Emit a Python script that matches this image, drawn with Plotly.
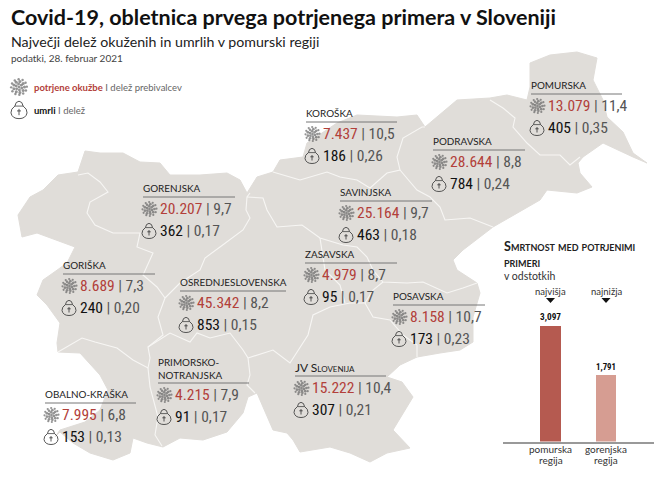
import math
import plotly.graph_objects as go

# regional figures
regions = ["POMURSKA", "KOROŠKA", "PODRAVSKA", "SAVINJSKA", "GORENJSKA", "GORIŠKA",
           "OSREDNJESLOVENSKA", "ZASAVSKA", "POSAVSKA", "JV Slovenija",
           "PRIMORSKO-<br>NOTRANJSKA", "OBALNO-KRAŠKA"]
cases = ["13.079", "7.437", "28.644", "25.164", "20.207", "8.689",
         "45.342", "4.979", "8.158", "15.222", "4.215", "7.995"]
cases_share = ["11,4", "10,5", "8,8", "9,7", "9,7", "7,3", "8,2", "8,7", "10,7", "10,4", "7,9", "6,8"]
deaths = ["405", "186", "784", "463", "362", "240", "853", "95", "173", "307", "91", "153"]
deaths_share = ["0,35", "0,26", "0,24", "0,18", "0,17", "0,20", "0,15", "0,17", "0,23", "0,21", "0,17", "0,13"]

# where each label block sits on the page
label_x = [531, 306, 433, 340, 143, 63, 180, 305, 393, 295, 158, 45]
rule_y = [94, 122, 150, 201, 197, 274, 291, 263, 305, 376, 383, 403]
rule_end = [622, 397, 525, 432, 235, 155, 286, 397, 485, 386, 249, 136]

# mortality bars
bar_regions = ["pomurska regija", "gorenjska regija"]
bar_values = [3.097, 1.791]
bar_labels = ["3,097", "1,791"]
bar_heads = ["najvišja", "najnižja"]

# map outline, traced in page pixels
outline_x = [18, 30, 43, 58, 78, 85, 100, 123, 140, 160, 170, 200, 227, 240, 247, 257, 273, 280, 303, 307,
             337, 357, 397, 417, 425, 443, 457, 490, 507, 527, 530, 530, 550, 577, 597, 593, 603, 607, 623,
             633, 647, 633, 603, 583, 578, 580, 592, 577, 547, 540, 517, 493, 463, 453, 457, 477, 480, 473,
             473, 460, 440, 417, 400, 387, 402, 413, 393, 410, 387, 370, 350, 330, 300, 293, 287, 273, 263,
             257, 248, 243, 227, 203, 180, 163, 147, 133, 130, 113, 90, 73, 60, 55, 60, 85, 100, 108, 100,
             80, 58, 57, 60, 47, 37, 43, 53, 67, 75, 57, 37, 22, 18]
outline_y = [215, 197, 190, 175, 172, 151, 153, 153, 162, 163, 175, 175, 173, 180, 193, 177, 172, 160, 157, 143,
             123, 115, 117, 115, 127, 112, 100, 98, 95, 100, 87, 63, 55, 52, 58, 80, 100, 117, 132,
             153, 163, 157, 143, 157, 163, 173, 187, 193, 190, 200, 213, 227, 250, 260, 270, 283, 293, 317,
             342, 350, 353, 357, 365, 377, 382, 397, 430, 448, 453, 462, 453, 447, 452, 440, 433, 430, 407,
             393, 397, 413, 432, 440, 438, 447, 443, 438, 453, 460, 453, 443, 432, 437, 430, 422, 410, 390, 375,
             353, 352, 343, 323, 305, 295, 280, 273, 263, 247, 240, 233, 237, 215]

# white borders between regions
border_x = [78, 88, 100, 108, 90, 87, 95, 113, 140, 137, 153, 143, 157, 165, None,
            165, 180, 200, 205, 220, 243, 250, 246, 247, 250, None,
            165, 158, 163, 148, 150, 148, 133, 117, 95, 82, 58, None,
            148, 170, 190, 197, 210, 230, 243, 248, 250, 247, 255, None,
            148, 150, 158, 155, 162, None,
            248, 273, 290, 308, 313, 330, 350, 365, 373, 390, 403, 417, 417, None,
            247, 263, 267, 277, 302, 320, 343, 357, 367, 373, 383, 407, 423, 447, 463, 477, None,
            345, 340, 325, 320, None, 365, 373, 383, None,
            273, 300, 327, 340, 357, 370, 387, 400, 397, 403, 422, 425, None,
            400, 417, 430, 440, 445, 470, 493, None,
            490, 503, 515, 513, 527, 540, 560, 570, 580]
border_y = [175, 173, 182, 192, 202, 213, 225, 233, 233, 247, 253, 275, 287, 298, None,
            298, 283, 270, 258, 247, 230, 218, 210, 197, 193, None,
            298, 317, 335, 347, 358, 368, 360, 348, 342, 338, 352, None,
            347, 333, 342, 333, 338, 333, 350, 358, 375, 385, 393, None,
            368, 387, 417, 435, 446, None,
            358, 350, 363, 335, 315, 307, 303, 303, 317, 320, 335, 345, 357, None,
            197, 198, 210, 227, 225, 238, 245, 247, 257, 270, 282, 283, 282, 293, 288, 283, None,
            303, 285, 270, 238, None, 303, 290, 282, None,
            172, 180, 172, 177, 180, 188, 173, 170, 157, 138, 127, 127, None,
            170, 190, 197, 207, 220, 218, 227, None,
            100, 108, 118, 127, 143, 155, 155, 165, 157]

MAP_GREY = "#e0ddd9"
RED = "#b2403a"
NUM_FONT = "Roboto Condensed"
TXT_FONT = "Lato"

fig = go.Figure()

fig.add_trace(go.Scatter(x=outline_x, y=outline_y, fill="toself", fillcolor=MAP_GREY, mode="lines",
                         line=dict(color=MAP_GREY, width=1), hoverinfo="skip", showlegend=False))
fig.add_trace(go.Scatter(x=border_x, y=border_y, mode="lines", line=dict(color="#f7f6f4", width=1.1),
                         hoverinfo="skip", showlegend=False))


def add_text(x, y, text, size, color="#222", family=TXT_FONT, **kw):
    anchor = kw.pop("xanchor", "left")
    if anchor == "left":
        x -= 1.5
    fig.add_annotation(x=x, y=y, text=text, showarrow=False, xanchor=anchor,
                       yanchor="middle", align="left", borderpad=0,
                       font=dict(family=family, size=size, color=color, **kw))


def add_virus(cx, cy, r=7.0):
    # rings of small dots, lumpy like the original pictogram
    xs, ys, sizes = [cx], [cy], [2.6]
    for radius, n, dot in [(0.38, 6, 2.6), (0.7, 9, 2.7), (1.0, 12, 2.2)]:
        for i in range(n):
            a = i * 2 * math.pi / n + radius
            xs.append(cx + r * radius * math.cos(a))
            ys.append(cy + r * radius * math.sin(a))
            sizes.append(dot * r / 7)
    fig.add_trace(go.Scatter(x=xs, y=ys, mode="markers", hoverinfo="skip", showlegend=False,
                             marker=dict(size=sizes, color="#666", line=dict(width=0))))


def add_urn(cx, cy, s=1.0):
    body = (f"M {cx - 3.6 * s},{cy - 3.4 * s} L {cx - 2.4 * s},{cy - 6.5 * s} Q {cx},{cy - 8.8 * s} {cx + 2.4 * s},{cy - 6.5 * s} "
            f"L {cx + 3.6 * s},{cy - 3.4 * s} Q {cx + 7.2 * s},{cy - 1 * s} {cx + 7 * s},{cy + 2.5 * s} Q {cx + 6 * s},{cy + 7.5 * s} {cx},{cy + 7.5 * s} "
            f"Q {cx - 6 * s},{cy + 7.5 * s} {cx - 7 * s},{cy + 2.5 * s} Q {cx - 7.2 * s},{cy - 1 * s} {cx - 3.6 * s},{cy - 3.4 * s} Z")
    collar = f"M {cx - 3.6 * s},{cy - 3.4 * s} L {cx + 3.6 * s},{cy - 3.4 * s}"
    cross = f"M {cx},{cy - 1 * s} L {cx},{cy + 4.5 * s} M {cx - 1.7 * s},{cy + 0.8 * s} L {cx + 1.7 * s},{cy + 0.8 * s}"
    fig.add_shape(type="path", path=body, line=dict(color="#444", width=0.9), fillcolor="rgba(0,0,0,0)", xref="x", yref="y")
    fig.add_shape(type="path", path=collar, line=dict(color="#444", width=0.8), xref="x", yref="y")
    fig.add_shape(type="path", path=cross, line=dict(color="#333", width=0.8), xref="x", yref="y")


# heading
add_text(11, 17, "<b>Covid-19, obletnica prvega potrjenega primera v Sloveniji</b>", 21.5, "#111")
add_text(11, 41, "Največji delež okuženih in umrlih v pomurski regiji", 14.2, "#222")
add_text(11, 58, "podatki, 28. februar 2021", 10, "#444")

# legend
add_virus(19, 87, r=7.8)
add_urn(19, 110, s=1.15)
add_text(34, 87, f'<b><span style="color:{RED}">potrjene okužbe</span></b><span style="color:#666"> I delež prebivalcev</span>', 9.5)
add_text(34, 110, '<b><span style="color:#111">umrli</span></b><span style="color:#666"> I delež</span>', 9.5)

# region blocks
for i, name in enumerate(regions):
    x, ry = label_x[i], rule_y[i]
    if name == "JV Slovenija":
        add_text(x, ry - 9, name, 12, "#222", variant="small-caps")
    elif "<br>" in name:
        add_text(x, ry - 15, name, 9.9, "#222")
    else:
        add_text(x, ry - 9, name, 9.9, "#222")
    fig.add_shape(type="line", x0=x, x1=rule_end[i], y0=ry, y1=ry, line=dict(color="#777", width=1))
    add_virus(x + 6.5, ry + 12)
    add_urn(x + 6, ry + 34)
    add_text(x + 17, ry + 12,
             f'<span style="color:{RED}">{cases[i]}</span><span style="color:#555"> | {cases_share[i]}</span>',
             15.5, "#555", NUM_FONT)
    add_text(x + 17, ry + 34,
             f'<span style="color:#111">{deaths[i]}</span><span style="color:#555"> | {deaths_share[i]}</span>',
             15.5, "#555", NUM_FONT)

# mortality panel
fig.add_trace(go.Bar(x=bar_regions, y=bar_values, xaxis="x2", yaxis="y2", width=0.37,
                     marker=dict(color=["#b55a50", "#d69d92"], line=dict(width=0)),
                     text=bar_labels, textposition="outside", cliponaxis=False,
                     textfont=dict(family=NUM_FONT, size=14.5, color="#111", weight="bold"),
                     hoverinfo="skip", showlegend=False))
add_text(504, 246.5, "<b>Smrtnost med potrjenimi</b><br><b>primeri</b>".split("<br>")[0], 12.6, "#222", variant="small-caps")
add_text(504, 262.5, "<b>primeri</b>", 12.6, "#222", variant="small-caps")
add_text(504, 276, "v odstotkih", 10.5, "#333")
for cx, head, tick in zip([550.5, 606], bar_heads, bar_regions):
    add_text(cx, 291, head, 9.5, "#333", xanchor="center")
    fig.add_shape(type="path", path=f"M {cx - 4.5},298 L {cx + 4.5},298 L {cx},303 Z",
                  fillcolor="#111", line=dict(width=0))
    # two tight lines, closer than a tick label's own line height
    for y, word in zip([449, 460], tick.split(" ")):
        add_text(cx, y, word, 10, "#333", xanchor="center")

fig.update_layout(
    width=660, height=480,
    margin=dict(l=0, r=0, t=0, b=0),
    paper_bgcolor="white", plot_bgcolor="rgba(0,0,0,0)",
    bargap=0,
    xaxis=dict(range=[0, 660], domain=[0, 1], visible=False, fixedrange=True),
    yaxis=dict(range=[480, 0], domain=[0, 1], visible=False, fixedrange=True),
    xaxis2=dict(domain=[503 / 660, 654 / 660], anchor="y2", type="category", range=[-0.856, 1.865],
                showline=True, linecolor="#999", linewidth=2, showgrid=False, ticks="", showticklabels=False),
    yaxis2=dict(domain=[38.5 / 480, 180 / 480], anchor="x2", range=[0, 3.8], visible=False),
)

fig.write_html("out.html", config=dict(displayModeBar=False), post_script="document.body.style.margin='0';")
